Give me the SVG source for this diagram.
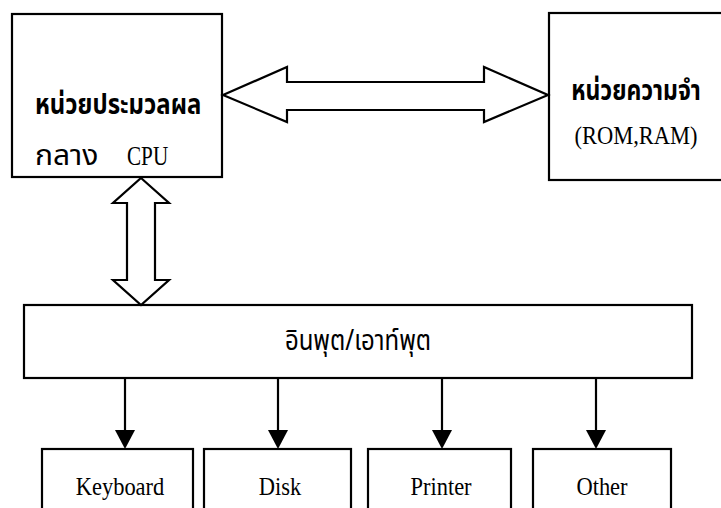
<svg xmlns="http://www.w3.org/2000/svg" width="721" height="508" viewBox="0 0 721 508">
<defs>
<style>
.box{fill:#fff;stroke:#000;stroke-width:2.2}
.arr{fill:#fff;stroke:#000;stroke-width:2.2;stroke-linejoin:miter}
.ln{stroke:#000;stroke-width:2.2;fill:none}
.head{fill:#000;stroke:none}
.th{font-family:"Noto Sans Thai","Noto Sans Thai UI","Loma","Garuda","Tlwg Typo","Noto Sans","DejaVu Sans",sans-serif;fill:#000}
.thb{font-weight:bold}
.en{font-family:"Liberation Serif","Times New Roman",serif;fill:#000}
</style>
</defs>
<rect width="721" height="508" fill="#fff"/>
<g id="cpu">
<rect class="box" x="12" y="14" width="210" height="163"/>
<text class="th thb" transform="translate(35,114) scale(1.04,1.25)" font-size="23">หน่วยประมวลผล</text>
<text class="th" transform="translate(35,165) scale(1.25,1.2)" font-size="24">กลาง</text>
<text class="en" transform="translate(127,165) scale(0.92,1.18)" font-size="23">CPU</text>
</g>
<g id="memory">
<rect class="box" x="549" y="13" width="180" height="167"/>
<text class="th thb" transform="translate(636,100) scale(1,1.25)" font-size="23" text-anchor="middle">หน่วยความจำ</text>
<text class="en" transform="translate(636,144) scale(1,1.15)" font-size="22.5" text-anchor="middle">(ROM,RAM)</text>
</g>
<g id="io">
<rect class="box" x="24" y="305" width="668" height="73"/>
<text class="th" transform="translate(358,350) scale(1,1.2)" font-size="24" text-anchor="middle">อินพุต/เอาท์พุต</text>
</g>
<g id="keyboard">
<rect class="box" x="42" y="449" width="151" height="70"/>
<text class="en" transform="translate(120,495) scale(1,1.12)" font-size="22.5" text-anchor="middle">Keyboard</text>
</g>
<g id="disk">
<rect class="box" x="204" y="449" width="147" height="70"/>
<text class="en" transform="translate(280,495) scale(1,1.12)" font-size="22.5" text-anchor="middle">Disk</text>
</g>
<g id="printer">
<rect class="box" x="368" y="449" width="143" height="70"/>
<text class="en" transform="translate(441,495) scale(1,1.12)" font-size="22.5" text-anchor="middle">Printer</text>
</g>
<g id="other">
<rect class="box" x="533" y="449" width="138" height="70"/>
<text class="en" transform="translate(602,495) scale(1,1.12)" font-size="22.5" text-anchor="middle">Other</text>
</g>
<g id="connectors">
<path class="arr" d="M223,95 L287,67 L287,82 L484,82 L484,67 L548,95 L484,122 L484,110 L287,110 L287,122 Z"/>
<path class="arr" d="M141,178 L169,203 L155,203 L155,280 L169,280 L141,305 L113,280 L127,280 L127,203 L113,203 Z"/>
<line class="ln" x1="125" y1="378" x2="125" y2="432"/>
<path class="head" d="M115,430 L135,430 L125,449 Z"/>
<line class="ln" x1="278" y1="378" x2="278" y2="432"/>
<path class="head" d="M268,430 L288,430 L278,449 Z"/>
<line class="ln" x1="442" y1="378" x2="442" y2="432"/>
<path class="head" d="M432,430 L452,430 L442,449 Z"/>
<line class="ln" x1="596" y1="378" x2="596" y2="432"/>
<path class="head" d="M586,430 L606,430 L596,449 Z"/>
</g>
</svg>
